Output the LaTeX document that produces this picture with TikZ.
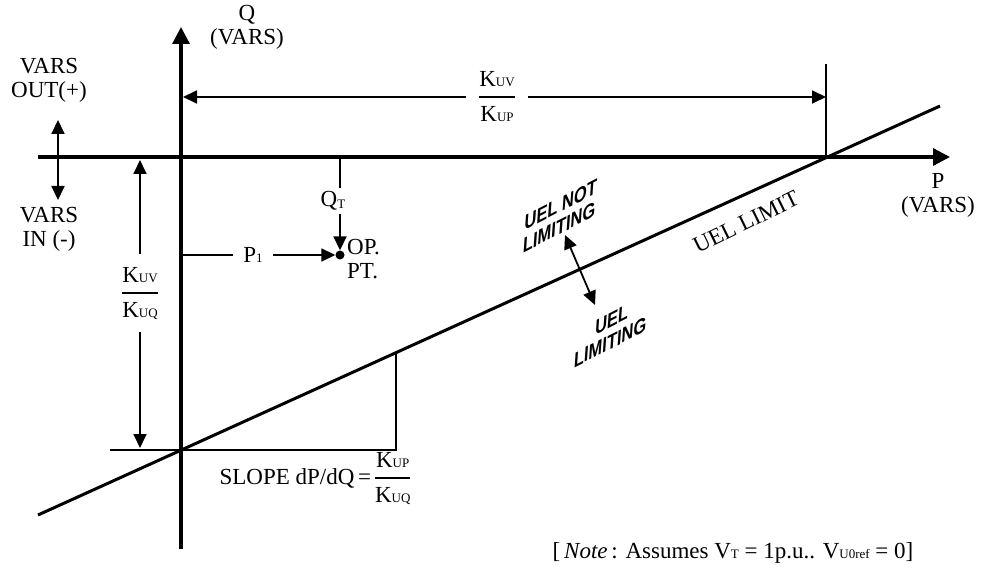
\documentclass[tikz,border=0pt]{standalone}
\usepackage{fontspec}
\setmainfont{Liberation Serif}
\newfontfamily\uelfont{Liberation Sans}
\usetikzlibrary{arrows.meta,positioning}

\newcommand{\smallidx}[1]{{\fontsize{13pt}{13pt}\selectfont #1}}
\newcommand{\kratio}[2]{{\setlength{\arrayrulewidth}{1.3pt}\renewcommand{\arraystretch}{1.4}\begin{tabular}{@{}c@{}}K\smallidx{#1}\\\hline K\smallidx{#2}\end{tabular}}}

\begin{document}
\begin{tikzpicture}[
  x=1pt, y=-1pt,
  lbl/.style={font=\fontsize{23}{24}\selectfont, align=center, inner sep=0pt},
  uel/.style={font=\uelfont\bfseries\fontsize{18.5}{19.5}\selectfont, align=center, inner sep=0pt, rotate=27, xslant=0.6, transform shape},
  axis/.style={line width=3.2pt, -{Triangle[length=17pt,width=17pt]}},
  dimarr/.style={line width=1.8pt, -{Triangle[length=14pt,width=13pt]}},
  dbl/.style={line width=1.8pt, {Triangle[length=14pt,width=13pt]}-{Triangle[length=14pt,width=13pt]}},
  guide/.style={line width=1.8pt}
]
\useasboundingbox (0,0) rectangle (983,569);

% axes and limit line
\coordinate (pleft) at (38,157);
\coordinate (pright) at (950,157);
\coordinate (qbot) at (181,549);
\coordinate (qtop) at (181,27);
\coordinate (uelA) at (38,515);
\coordinate (uelB) at (940,106);
\draw[axis] (pleft) -- (pright);
\draw[axis] (qbot) -- (qtop);
\draw[line width=3pt] (uelA) -- (uelB);

\node[lbl] (qlbl) at (247,27) {Q\\(VARS)};
\node[lbl] (plbl) at (938,195) {P\\(VARS)};
\node[lbl, rotate=26] (uellimit) at (746,222) {UEL LIMIT};

% vars in / out
\node[lbl] (varsout) at (49,80) {VARS\\OUT(+)};
\node[lbl] (varsin) at (49,229) {VARS\\IN (-)};
\coordinate (vout) at (58,120);
\coordinate (vin) at (58,200);
\draw[dbl] (vout) -- (vin);

% top dimension
\coordinate (tick) at (826,64);
\coordinate (xcross) at (826,157);
\coordinate (tickmid) at (826,97);
\coordinate (qmid) at (183,97);
\node[lbl, inner xsep=13pt] (kuvp) at (497,97) {\kratio{UV}{UP}};
\draw[guide] (tick) -- (xcross);
\draw[dimarr] (kuvp) -- (tickmid);
\draw[dimarr] (kuvp) -- (qmid);

% left dimension
\coordinate (kup) at (140,160);
\coordinate (kdn) at (140,448);
\node[lbl, inner ysep=4.5pt] (kuvq) at (140,293) {\kratio{UV}{UQ}};
\draw[dimarr] (kuvq) -- (kup);
\draw[dimarr] (kuvq) -- (kdn);

% slope triangle
\coordinate (hleft) at (110,450);
\coordinate (corner) at (396,450);
\coordinate (slopetop) at (396,353);
\draw[guide] (hleft) -- (corner) -- (slopetop);
\node[lbl] (slope) at (315,478) {SLOPE dP/dQ\,=\,\kratio{UP}{UQ}};

% operating point
\node[circle, fill, inner sep=0pt, minimum size=9pt] (op) at (340,255) {};
\node[lbl, align=left, anchor=west] (optxt) at (347,259) {OP.\\PT.};
\coordinate (qtick) at (340,157);
\node[lbl, inner ysep=3pt] (qt) at (333,201) {Q\raisebox{-2pt}{\smallidx{T}}};
\draw[guide] (qtick) -- (qtick |- qt.north);
\draw[dimarr] (qtick |- qt.south) -- (op);
\coordinate (p1start) at (181,255);
\node[lbl, inner xsep=10pt] (p1) at (253,255) {P\smallidx{1}};
\draw[guide] (p1start) -- (p1);
\draw[dimarr] (p1) -- (op);

% limiting regions
\node[uel] (uelnot) at (560,216) {UEL NOT\\LIMITING};
\node[uel] (uellim) at (611,331) {UEL\\LIMITING};
\coordinate (uelup) at (565,235);
\coordinate (ueldn) at (595,305);
\draw[dbl] (uelup) -- (ueldn);

\node[lbl] (note) at (733,553) {[\,\textit{Note}\,: Assumes V\smallidx{T} = 1p.u.. V\smallidx{U0ref} = 0]};
\end{tikzpicture}
\end{document}
